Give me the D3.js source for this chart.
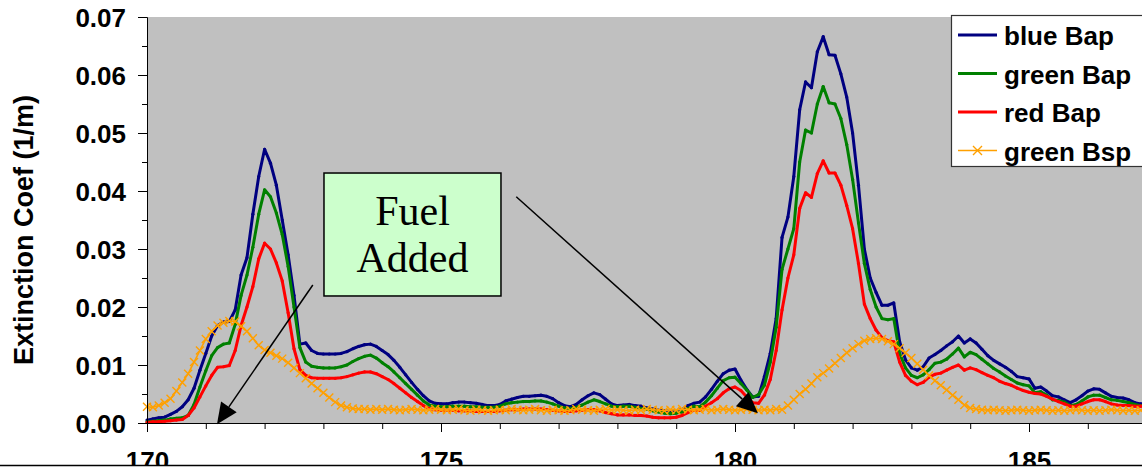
<!DOCTYPE html>
<html>
<head>
<meta charset="utf-8">
<script src="https://cdn.jsdelivr.net/npm/d3@7"></script>
<style>
  body { margin: 0; background: #fff; }
  svg { display: block; }
</style>
</head>
<body>
<div id="chart"></div>
<script>
// time axis samples (every 0.1)
const times = [
  170.0,170.1,170.2,170.3,170.4,170.5,170.6,170.7,170.8,170.9,
  171.0,171.1,171.2,171.3,171.4,171.5,171.6,171.7,171.8,171.9,
  172.0,172.1,172.2,172.3,172.4,172.5,172.6,172.7,172.8,172.9,
  173.0,173.1,173.2,173.3,173.4,173.5,173.6,173.7,173.8,173.9,
  174.0,174.1,174.2,174.3,174.4,174.5,174.6,174.7,174.8,174.9,
  175.0,175.1,175.2,175.3,175.4,175.5,175.6,175.7,175.8,175.9,
  176.0,176.1,176.2,176.3,176.4,176.5,176.6,176.7,176.8,176.9,
  177.0,177.1,177.2,177.3,177.4,177.5,177.6,177.7,177.8,177.9,
  178.0,178.1,178.2,178.3,178.4,178.5,178.6,178.7,178.8,178.9,
  179.0,179.1,179.2,179.3,179.4,179.5,179.6,179.7,179.8,179.9,
  180.0,180.1,180.2,180.3,180.4,180.5,180.6,180.7,180.8,180.9,
  181.0,181.1,181.2,181.3,181.4,181.5,181.6,181.7,181.8,181.9,
  182.0,182.1,182.2,182.3,182.4,182.5,182.6,182.7,182.8,182.9,
  183.0,183.1,183.2,183.3,183.4,183.5,183.6,183.7,183.8,183.9,
  184.0,184.1,184.2,184.3,184.4,184.5,184.6,184.7,184.8,184.9,
  185.0,185.1,185.2,185.3,185.4,185.5,185.6,185.7,185.8,185.9,
  186.0,186.1,186.2,186.3,186.4,186.5,186.6,186.7,186.8,186.9,
  187.0
]

const blueBap = [
  0.0005,0.0007,0.0009,0.0010,0.0015,0.0020,0.0028,0.0040,0.0060,0.0091,
  0.0120,0.0150,0.0168,0.0174,0.0175,0.0195,0.0255,0.0285,0.0360,0.0425,
  0.0472,0.0448,0.0410,0.0350,0.0290,0.0220,0.0136,0.0138,0.0125,0.0120,
  0.0119,0.0119,0.0119,0.0120,0.0123,0.0128,0.0132,0.0135,0.0136,0.0132,
  0.0125,0.0118,0.0108,0.0096,0.0083,0.0070,0.0058,0.0047,0.0038,0.0034,
  0.0033,0.0033,0.0035,0.0036,0.0036,0.0035,0.0034,0.0032,0.0030,0.0030,
  0.0032,0.0038,0.0041,0.0044,0.0046,0.0046,0.0047,0.0048,0.0046,0.0042,
  0.0035,0.0030,0.0028,0.0032,0.0040,0.0047,0.0052,0.0049,0.0041,0.0033,
  0.0030,0.0031,0.0032,0.0030,0.0029,0.0026,0.0024,0.0022,0.0021,0.0020,
  0.0021,0.0023,0.0030,0.0034,0.0036,0.0045,0.0058,0.0072,0.0085,0.0091,
  0.0093,0.0074,0.0058,0.0045,0.0046,0.0080,0.0120,0.0180,0.0320,0.0355,
  0.0425,0.0540,0.0588,0.0578,0.0640,0.0666,0.0635,0.0634,0.0602,0.0562,
  0.0500,0.0410,0.0300,0.0250,0.0225,0.0203,0.0203,0.0207,0.0140,0.0109,
  0.0095,0.0091,0.0097,0.0112,0.0118,0.0125,0.0133,0.0140,0.0150,0.0138,
  0.0145,0.0138,0.0127,0.0116,0.0108,0.0102,0.0096,0.0089,0.0080,0.0078,
  0.0076,0.0060,0.0062,0.0055,0.0047,0.0045,0.0040,0.0035,0.0040,0.0047,
  0.0055,0.0059,0.0058,0.0052,0.0046,0.0044,0.0043,0.0040,0.0035,0.0033,
  0.0032
]

const greenBap = [
  0.0002,0.0003,0.0004,0.0005,0.0007,0.0008,0.0009,0.0013,0.0032,0.0062,
  0.0090,0.0116,0.0130,0.0136,0.0138,0.0170,0.0220,0.0255,0.0303,0.0360,
  0.0402,0.0390,0.0362,0.0325,0.0270,0.0200,0.0130,0.0105,0.0098,0.0096,
  0.0095,0.0095,0.0095,0.0097,0.0100,0.0106,0.0111,0.0115,0.0117,0.0112,
  0.0104,0.0097,0.0088,0.0078,0.0068,0.0058,0.0048,0.0038,0.0031,0.0029,
  0.0028,0.0028,0.0029,0.0029,0.0029,0.0028,0.0028,0.0027,0.0027,0.0027,
  0.0029,0.0033,0.0035,0.0036,0.0037,0.0037,0.0038,0.0038,0.0036,0.0033,
  0.0029,0.0026,0.0025,0.0027,0.0031,0.0036,0.0040,0.0037,0.0033,0.0029,
  0.0028,0.0029,0.0029,0.0027,0.0025,0.0024,0.0021,0.0019,0.0017,0.0016,
  0.0017,0.0019,0.0025,0.0029,0.0028,0.0036,0.0047,0.0060,0.0073,0.0078,
  0.0079,0.0068,0.0057,0.0044,0.0049,0.0065,0.0105,0.0165,0.0265,0.0300,
  0.0335,0.0450,0.0505,0.0500,0.0550,0.0580,0.0552,0.0550,0.0525,0.0480,
  0.0420,0.0345,0.0275,0.0230,0.0200,0.0180,0.0178,0.0180,0.0120,0.0095,
  0.0082,0.0078,0.0083,0.0092,0.0103,0.0105,0.0110,0.0119,0.0129,0.0114,
  0.0122,0.0118,0.0110,0.0102,0.0094,0.0088,0.0081,0.0075,0.0069,0.0066,
  0.0064,0.0052,0.0054,0.0048,0.0040,0.0039,0.0036,0.0030,0.0032,0.0038,
  0.0045,0.0048,0.0048,0.0044,0.0040,0.0039,0.0037,0.0035,0.0032,0.0030,
  0.0029
]

const redBap = [
  0.0001,0.0002,0.0002,0.0003,0.0004,0.0005,0.0006,0.0013,0.0026,0.0045,
  0.0064,0.0082,0.0096,0.0097,0.0099,0.0125,0.0168,0.0200,0.0235,0.0283,
  0.0310,0.0300,0.0276,0.0245,0.0190,0.0128,0.0092,0.0082,0.0078,0.0077,
  0.0077,0.0077,0.0077,0.0078,0.0080,0.0083,0.0086,0.0088,0.0088,0.0085,
  0.0080,0.0075,0.0068,0.0060,0.0052,0.0044,0.0037,0.0030,0.0025,0.0023,
  0.0022,0.0022,0.0022,0.0021,0.0021,0.0021,0.0020,0.0020,0.0020,0.0020,
  0.0021,0.0022,0.0023,0.0023,0.0024,0.0024,0.0024,0.0024,0.0023,0.0022,
  0.0021,0.0020,0.0020,0.0021,0.0022,0.0023,0.0023,0.0021,0.0018,0.0016,
  0.0014,0.0014,0.0014,0.0013,0.0013,0.0012,0.0010,0.0009,0.0009,0.0009,
  0.0010,0.0013,0.0018,0.0022,0.0022,0.0029,0.0035,0.0042,0.0052,0.0059,
  0.0062,0.0056,0.0045,0.0035,0.0034,0.0048,0.0075,0.0125,0.0195,0.0250,
  0.0290,0.0370,0.0397,0.0389,0.0430,0.0452,0.0431,0.0431,0.0410,0.0375,
  0.0335,0.0275,0.0205,0.0180,0.0160,0.0147,0.0142,0.0140,0.0105,0.0082,
  0.0072,0.0066,0.0070,0.0079,0.0084,0.0086,0.0091,0.0096,0.0100,0.0091,
  0.0095,0.0092,0.0087,0.0082,0.0078,0.0072,0.0068,0.0065,0.0060,0.0056,
  0.0053,0.0051,0.0050,0.0046,0.0041,0.0037,0.0033,0.0029,0.0029,0.0033,
  0.0037,0.0040,0.0040,0.0037,0.0033,0.0031,0.0030,0.0030,0.0029,0.0029,
  0.0028
]

const greenBsp = [
  0.0028,0.0027,0.0030,0.0035,0.0042,0.0055,0.0070,0.0085,0.0105,0.0125,
  0.0145,0.0158,0.0168,0.0173,0.0176,0.0175,0.0167,0.0158,0.0146,0.0134,
  0.0126,0.0121,0.0116,0.0111,0.0104,0.0095,0.0086,0.0077,0.0068,0.0060,
  0.0052,0.0044,0.0036,0.0030,0.0027,0.0025,0.0024,0.0024,0.0023,0.0024,
  0.0023,0.0024,0.0023,0.0022,0.0023,0.0024,0.0023,0.0022,0.0023,0.0024,
  0.0023,0.0022,0.0023,0.0024,0.0022,0.0021,0.0023,0.0022,0.0021,0.0022,
  0.0023,0.0022,0.0024,0.0023,0.0022,0.0023,0.0024,0.0022,0.0021,0.0023,
  0.0022,0.0021,0.0022,0.0024,0.0023,0.0022,0.0021,0.0023,0.0024,0.0022,
  0.0023,0.0022,0.0021,0.0023,0.0022,0.0024,0.0023,0.0022,0.0021,0.0023,
  0.0022,0.0024,0.0023,0.0022,0.0023,0.0024,0.0022,0.0023,0.0024,0.0023,
  0.0022,0.0023,0.0024,0.0023,0.0022,0.0023,0.0022,0.0024,0.0023,0.0030,
  0.0040,0.0050,0.0058,0.0068,0.0079,0.0086,0.0094,0.0103,0.0112,0.0121,
  0.0129,0.0136,0.0142,0.0145,0.0146,0.0145,0.0141,0.0136,0.0129,0.0121,
  0.0112,0.0102,0.0092,0.0082,0.0073,0.0065,0.0057,0.0048,0.0040,0.0031,
  0.0026,0.0024,0.0023,0.0022,0.0023,0.0022,0.0021,0.0022,0.0023,0.0022,
  0.0021,0.0022,0.0023,0.0022,0.0021,0.0022,0.0021,0.0022,0.0023,0.0022,
  0.0021,0.0022,0.0021,0.0022,0.0023,0.0022,0.0021,0.0022,0.0021,0.0022,
  0.0022
]

const seriesNames = ['blue Bap', 'green Bap', 'red Bap', 'green Bsp']
const yTicks = [0, 0.01, 0.02, 0.03, 0.04, 0.05, 0.06, 0.07]
const yMinorTicks = [0.005, 0.015, 0.025, 0.035, 0.045, 0.055, 0.065]
const xTicks = [170, 175, 180, 185]
const xMinorTicks = [171, 172, 173, 174, 176, 177, 178, 179, 181, 182, 183, 184, 186, 187, 188, 189]
const yTitle = 'Extinction Coef (1/m)'
const noteLines = ['Fuel', 'Added']

const colors = ['#000080', '#008000', '#ff0000', '#ffa000']
const series = [blueBap, greenBap, redBap, greenBsp]

let chartWidth = 1142
let chartHeight = 470

let svg = d3.select('#chart')
            .append('svg')
            .attr('width', chartWidth)
            .attr('height', chartHeight)

// scales: plot runs past the right edge of the window
let x = d3.scaleLinear().domain([170, 190]).range([147, 1323])
let y = d3.scaleLinear().domain([0, 0.07]).range([423, 17])

// grey plot area
svg.append('rect')
    .attr('x', x(170))
    .attr('y', y(0.07))
    .attr('width', x(190) - x(170))
    .attr('height', y(0) - y(0.07))
    .attr('fill', '#c0c0c0')

// lines
let line = d3.line()
    .x((d, i) => x(times[i]))
    .y(d => y(d))

series.forEach((vals, k) => {
    let isBsp = k === 3
    svg.append('path')
        .datum(vals)
        .attr('d', line)
        .attr('fill', 'none')
        .attr('stroke', colors[k])
        .attr('stroke-width', isBsp ? 1.6 : 3)
        .attr('stroke-linejoin', 'round')

    if (isBsp) {
        // x markers
        svg.append('g').selectAll('path')
            .data(vals)
            .enter()
            .append('path')
            .attr('d', (d, i) => {
                let cx = x(times[i]), cy = y(d), r = 4
                return `M${cx - r},${cy - r}L${cx + r},${cy + r}M${cx - r},${cy + r}L${cx + r},${cy - r}`
            })
            .attr('stroke', colors[k])
            .attr('stroke-width', 1.4)
    } else {
        svg.append('g').selectAll('circle')
            .data(vals)
            .enter()
            .append('circle')
            .attr('cx', (d, i) => x(times[i]))
            .attr('cy', d => y(d))
            .attr('r', 1.6)
            .attr('fill', colors[k])
    }
})

// y axis
let yMinor = svg.append('g')
    .attr('transform', `translate(${x(170)},0)`)
    .call(d3.axisLeft(y).tickValues(yMinorTicks).tickSize(5).tickSizeOuter(0).tickFormat(''))
let yAxis = svg.append('g')
    .attr('transform', `translate(${x(170)},0)`)
    .call(d3.axisLeft(y).tickValues(yTicks).tickSize(9).tickSizeOuter(0).tickPadding(12).tickFormat(d3.format('.2f')))
yAxis.selectAll('text')
    .attr('dy', '0.37em')
    .attr('font-family', '"Liberation Sans", Arial, sans-serif')
    .attr('font-weight', 'bold')
    .attr('font-size', 26)
    .attr('fill', '#000')

svg.append('text')
    .attr('transform', `translate(33,${(y(0) + y(0.07)) / 2 + 10}) rotate(-90)`)
    .attr('text-anchor', 'middle')
    .attr('font-family', '"Liberation Sans", Arial, sans-serif')
    .attr('font-weight', 'bold')
    .attr('font-size', 27)
    .text(yTitle)

// x axis
svg.append('g')
    .attr('transform', `translate(0,${y(0)})`)
    .call(d3.axisBottom(x).tickValues(xMinorTicks).tickSize(6).tickSizeOuter(0).tickFormat(''))
let xAxis = svg.append('g')
    .attr('transform', `translate(0,${y(0)})`)
    .call(d3.axisBottom(x).tickValues(xTicks).tickSize(9).tickSizeOuter(0).tickPadding(20).tickFormat(d3.format('d')))
xAxis.selectAll('text')
    .attr('font-family', '"Liberation Sans", Arial, sans-serif')
    .attr('font-weight', 'bold')
    .attr('font-size', 26)
    .attr('fill', '#000')

// bottom rule that cuts the tick labels
svg.append('rect')
    .attr('x', 0).attr('y', 466)
    .attr('width', chartWidth).attr('height', 10)
    .attr('fill', '#fff')
svg.append('line')
    .attr('x1', 0).attr('x2', chartWidth)
    .attr('y1', 465.5).attr('y2', 465.5)
    .attr('stroke', '#000')
    .attr('stroke-width', 1.5)

// annotation box, placed in data units
let box = { t0: 173.01, t1: 176.02, v0: 0.0431, v1: 0.0219 }
svg.append('rect')
    .attr('x', x(box.t0))
    .attr('y', y(box.v0))
    .attr('width', x(box.t1) - x(box.t0))
    .attr('height', y(box.v1) - y(box.v0))
    .attr('fill', '#ccffcc')
    .attr('stroke', '#000')
    .attr('stroke-width', 1.5)
noteLines.forEach((t, i) => {
    svg.append('text')
        .attr('x', (x(box.t0) + x(box.t1)) / 2)
        .attr('y', y(box.v0) + 52 + i * 47)
        .attr('text-anchor', 'middle')
        .attr('font-family', '"Liberation Serif", "Times New Roman", serif')
        .attr('font-size', 42)
        .text(t)
})

// arrows
let arrows = [
    { from: [172.82, 0.0238], to: [171.19, -0.0002] },
    { from: [176.28, 0.0390], to: [180.39, 0.0017] }
]
arrows.forEach(a => {
    let x1 = x(a.from[0]), y1 = y(a.from[1]), x2 = x(a.to[0]), y2 = y(a.to[1])
    let dx = x2 - x1, dy = y2 - y1, len = Math.sqrt(dx * dx + dy * dy)
    let ux = dx / len, uy = dy / len
    let hl = 21, hw = 9.5
    let bx = x2 - ux * hl, by = y2 - uy * hl
    svg.append('line')
        .attr('x1', x1).attr('y1', y1)
        .attr('x2', bx).attr('y2', by)
        .attr('stroke', '#000')
        .attr('stroke-width', 1.5)
    svg.append('path')
        .attr('d', `M${x2},${y2}L${bx - uy * hw},${by + ux * hw}L${bx + uy * hw},${by - ux * hw}Z`)
        .attr('fill', '#000')
})

// legend
let legend = svg.append('g')
legend.append('rect')
    .attr('x', 951.5).attr('y', 15.5)
    .attr('width', 260).attr('height', 151)
    .attr('fill', '#fff')
    .attr('stroke', '#333')
    .attr('stroke-width', 1.2)
seriesNames.forEach((name, k) => {
    let ly = 35 + k * 38.5
    legend.append('line')
        .attr('x1', 958).attr('x2', 997)
        .attr('y1', ly).attr('y2', ly)
        .attr('stroke', colors[k])
        .attr('stroke-width', k === 3 ? 1.6 : 3)
    if (k === 3) {
        let r = 4.5
        legend.append('path')
            .attr('d', `M${977.5 - r},${ly - r}L${977.5 + r},${ly + r}M${977.5 - r},${ly + r}L${977.5 + r},${ly - r}`)
            .attr('stroke', colors[k])
            .attr('stroke-width', 1.4)
    }
    legend.append('text')
        .attr('x', 1004)
        .attr('y', ly + 10)
        .attr('font-family', '"Liberation Sans", Arial, sans-serif')
        .attr('font-weight', 'bold')
        .attr('font-size', 26)
        .text(name)
})
</script>
</body>
</html>
